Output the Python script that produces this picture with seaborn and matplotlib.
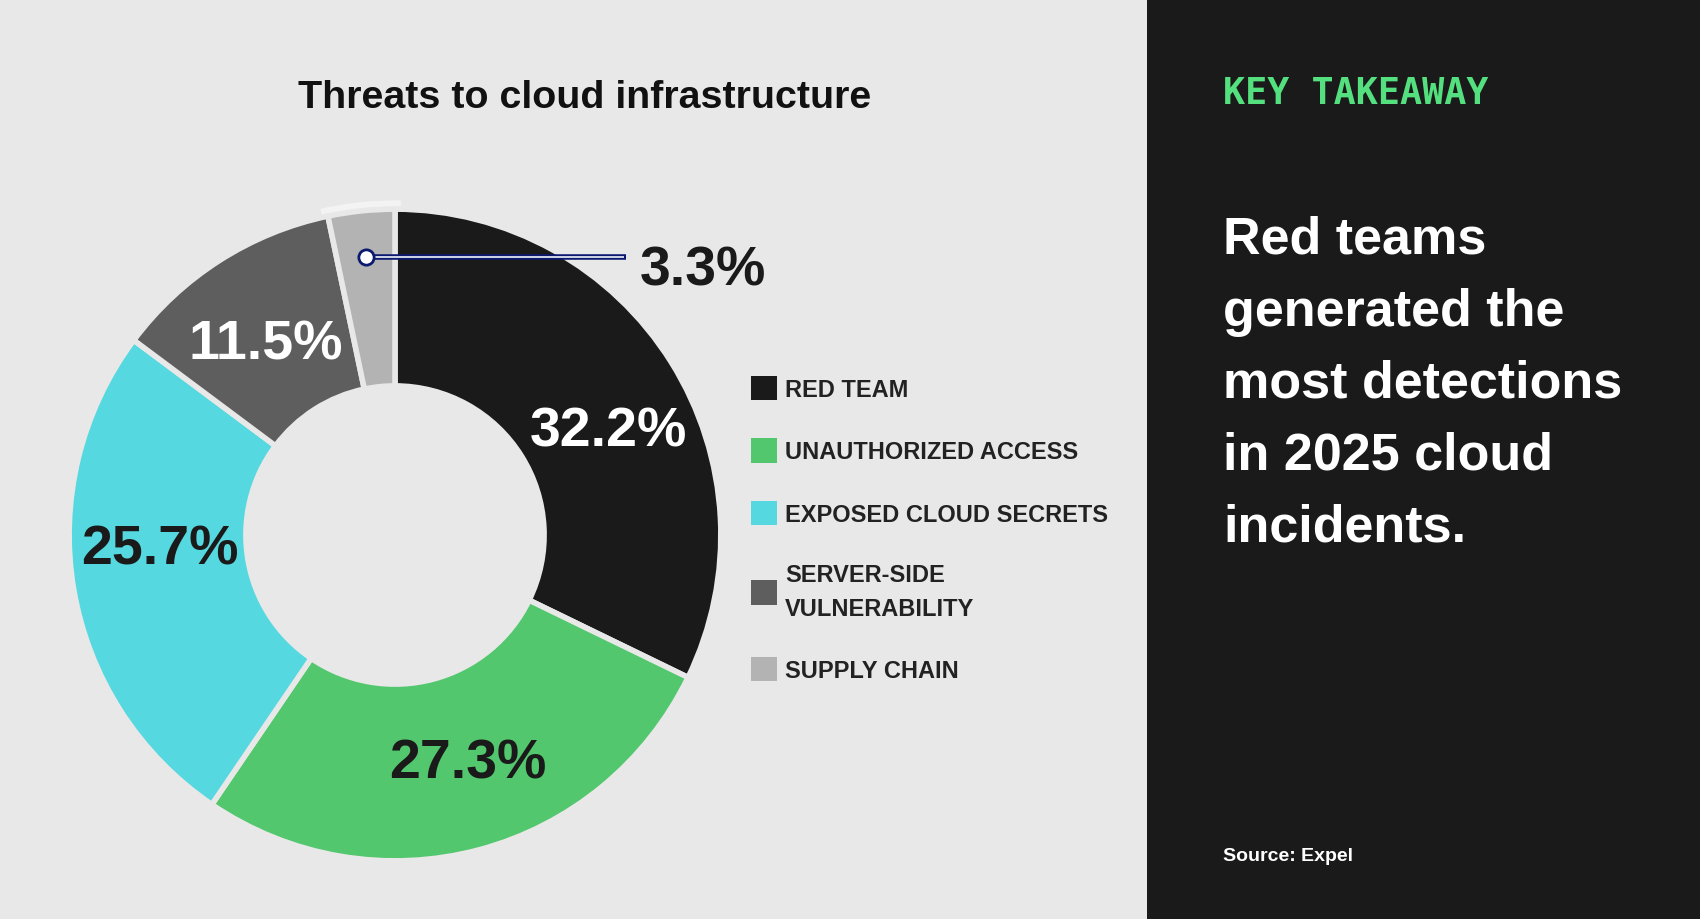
import numpy as np
import seaborn as sns
import matplotlib.pyplot as plt
from matplotlib.patches import Patch, Wedge

# Data
categories = ['RED TEAM', 'UNAUTHORIZED ACCESS', 'EXPOSED CLOUD SECRETS',
              'SERVER-SIDE\nVULNERABILITY', 'SUPPLY CHAIN']
shares = [32.2, 27.3, 25.7, 11.5, 3.3]
labels = ['32.2%', '27.3%', '25.7%', '11.5%', '3.3%']
colors = ['#1a1a1a', '#52c76d', '#55d8df', '#5e5e5e', '#b3b3b3']
label_colors = ['white', '#1a1a1a', '#1a1a1a', 'white', '#1a1a1a']
takeaway = 'Red teams\ngenerated the\nmost detections\nin 2025 cloud\nincidents.'

# small pixel nudges so the slice labels sit where the original put them
label_nudge = [(12, -22), (12, 1), (-1, 25), (-1, -10)]

sns.set_theme(style='white')
plt.rcParams['font.family'] = ['Liberation Sans', 'DejaVu Sans']

bg = '#e8e8e8'
fig = plt.figure(figsize=(17, 9.2), dpi=100, facecolor=bg)

# dark side panel
side = fig.add_axes([1147 / 1700, 0, 1 - 1147 / 1700, 1])
side.set_facecolor('#1a1a1a')
side.set_xticks([])
side.set_yticks([])
for s in side.spines.values():
    s.set_visible(False)

# donut
ax = fig.add_axes([45 / 1700, 34 / 920, 700 / 1700, 700 / 920])
ax.set_facecolor(bg)

R = 0.931
W = 0.505
wedges, _ = ax.pie(shares, radius=R, colors=colors, startangle=90, counterclock=False,
                   wedgeprops=dict(width=W, edgecolor=bg, linewidth=4))
ax.set_xlim(-1, 1)
ax.set_ylim(-1, 1)
ax.axis('off')

# soft halo behind the highlighted supply chain slice
sc = wedges[-1]
ax.add_patch(Wedge((0, 0), R + 0.025, sc.theta1 - 1.0, sc.theta2 + 1.0, width=W + 0.03,
                   facecolor='#f3f3f3', edgecolor='none', zorder=0))

# labels inside slices
for w, lab, c, nd in zip(wedges[:-1], labels[:-1], label_colors[:-1], label_nudge):
    mid = np.deg2rad((w.theta1 + w.theta2) / 2)
    rr = R - W / 2
    ax.annotate(lab, (rr * np.cos(mid), rr * np.sin(mid)), xytext=nd,
                textcoords='offset pixels', ha='center', va='center',
                fontsize=40, fontweight='bold', color=c)

# callout for the small slice
mid = np.deg2rad((sc.theta1 + sc.theta2) / 2)
px, py = 0.806 * np.cos(mid), 0.806 * np.sin(mid)
py -= 0.006
ax.plot([px, 0.66], [py, py], color='#0b1a6e', lw=4, solid_capstyle='butt', zorder=5)
ax.plot([px, 0.655], [py, py], color='#dfe3f0', lw=1.3, solid_capstyle='butt', zorder=6)
ax.plot([px], [py], marker='o', ms=11, mfc='white', mec='#0b1a6e', mew=2, zorder=7)
ax.text(0.70, py - 0.04, labels[-1], ha='left', va='center', fontsize=40,
        fontweight='bold', color='#1a1a1a')

fig.text(585 / 1700, 1 - 98 / 920, 'Threats to cloud infrastructure', ha='center',
         va='center', fontsize=28.4, fontweight='bold', color='#111111')

handles = [Patch(facecolor=c, edgecolor='none') for c in colors]
leg = fig.legend(handles, categories, loc='upper left', bbox_to_anchor=(751 / 1700, 1 - 377 / 920),
                 frameon=False, fontsize=17, handlelength=1.1, handleheight=1.2,
                 handletextpad=0.35, labelspacing=1.58, borderpad=0, borderaxespad=0)
for t in leg.get_texts():
    t.set_fontweight('bold')
    t.set_color('#222222')
    t.set_linespacing(1.6)

# right panel text
fig.text(1223 / 1700, 1 - 94 / 920, 'KEY TAKEAWAY', ha='left', va='center',
         fontsize=26.5, fontweight='bold', color='#55e07f', family='DejaVu Sans Mono')
fig.text(1223 / 1700, 1 - 216 / 920, takeaway, ha='left', va='top', fontsize=37.5,
         fontweight='bold', color='white', linespacing=1.6)
fig.text(1223 / 1700, 1 - 857 / 920, 'Source: Expel', ha='left', va='center',
         fontsize=14, fontweight='bold', color='white')

fig.savefig('out.png', dpi=100, facecolor=bg)
